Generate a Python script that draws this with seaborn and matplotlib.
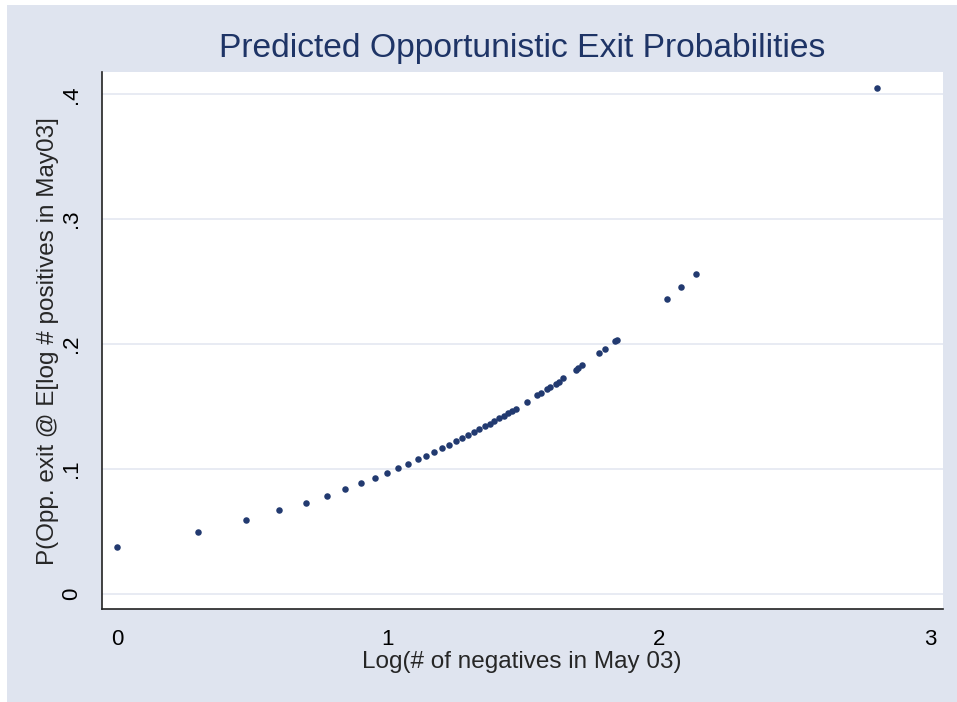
import matplotlib
matplotlib.use("Agg")
import matplotlib.pyplot as plt
import seaborn as sns
import pandas as pd
from matplotlib.patches import Rectangle

# Data
log_negatives = [0.000, 0.300, 0.475, 0.599, 0.696, 0.775, 0.841, 0.899, 0.951, 0.996,
                 1.038, 1.075, 1.110, 1.141, 1.171, 1.199, 1.226, 1.251, 1.274, 1.296,
                 1.318, 1.337, 1.357, 1.375, 1.392, 1.410, 1.427, 1.443, 1.458, 1.471,
                 1.513, 1.551, 1.563, 1.586, 1.598, 1.619, 1.630, 1.647, 1.693, 1.702,
                 1.717, 1.779, 1.800, 1.839, 1.845, 2.031, 2.082, 2.135, 2.804]
p_exit = [0.0371, 0.0497, 0.0590, 0.0668, 0.0729, 0.0785, 0.0839, 0.0884, 0.0927, 0.0967,
          0.1005, 0.1040, 0.1075, 0.1106, 0.1135, 0.1164, 0.1190, 0.1220, 0.1247, 0.1271,
          0.1295, 0.1320, 0.1340, 0.1360, 0.1386, 0.1408, 0.1426, 0.1448, 0.1466, 0.1480,
          0.1538, 0.1590, 0.1605, 0.1637, 0.1653, 0.1683, 0.1696, 0.1725, 0.1792, 0.1805,
          0.1832, 0.1926, 0.1960, 0.2025, 0.2035, 0.2358, 0.2457, 0.2559, 0.4054]
x_ticks = [0, 1, 2, 3]
x_tick_labels = ["0", "1", "2", "3"]
y_ticks = [0, 0.1, 0.2, 0.3, 0.4]
y_tick_labels = ["0", ".1", ".2", ".3", ".4"]

title = "Predicted Opportunistic Exit Probabilities"
x_label = "Log(# of negatives in May 03)"
y_label = "P(Opp. exit @ E[log # positives in May03]"

df = pd.DataFrame({"x": log_negatives, "y": p_exit})

sns.set_style("white")
plt.rcParams["font.family"] = ["Liberation Sans", "DejaVu Sans"]

BG = "#dfe4ef"
W, H = 957, 702
fig = plt.figure(figsize=(W / 100, H / 100), dpi=100, facecolor=BG)
# thin white frame on top/left edges
fig.patches.append(Rectangle((0, 0), 7 / W, 1, transform=fig.transFigure,
                             facecolor="white", edgecolor="none", zorder=-1))
fig.patches.append(Rectangle((0, 1 - 5 / H), 1, 5 / H, transform=fig.transFigure,
                             facecolor="white", edgecolor="none", zorder=-1))

left, right = 101.7 / W, 942.7 / W
bottom, top = 1 - 609.3 / H, 1 - 72.3 / H
ax = fig.add_axes([left, bottom, right - left, top - bottom])
ax.set_facecolor("white")

sns.scatterplot(data=df, x="x", y="y", ax=ax, color="#223a70", s=22,
                linewidth=0, zorder=3)

ax.set_xlim(-0.0565, 3.047)
ax.set_ylim(-0.0125, 0.4176)
ax.set_xticks(x_ticks)
ax.set_xticklabels(x_tick_labels, fontsize=16)
ax.set_yticks(y_ticks)
ax.set_yticklabels(y_tick_labels, fontsize=16, rotation=90, va="center")

for yv in y_ticks:
    ax.axhline(yv, color="#e6e9f2", lw=1.3, zorder=1)

for s in ["top", "right"]:
    ax.spines[s].set_visible(False)
for s in ["left", "bottom"]:
    ax.spines[s].set_color("#222222")
    ax.spines[s].set_linewidth(1.2)

ax.tick_params(axis="both", direction="out", length=9, width=1.2,
               color="#555555", labelcolor="black")
ax.tick_params(axis="x", pad=5)
ax.tick_params(axis="y", pad=5)

ax.set_xlabel(x_label, fontsize=17.5, labelpad=1)
ax.set_ylabel(y_label, fontsize=17.5, labelpad=1.5)

fig.text((left + right) / 2, 1 - 57 / H, title, ha="center", va="baseline",
         fontsize=24.2, color="#1e3466")

fig.savefig("out.png", dpi=100, facecolor=BG)
